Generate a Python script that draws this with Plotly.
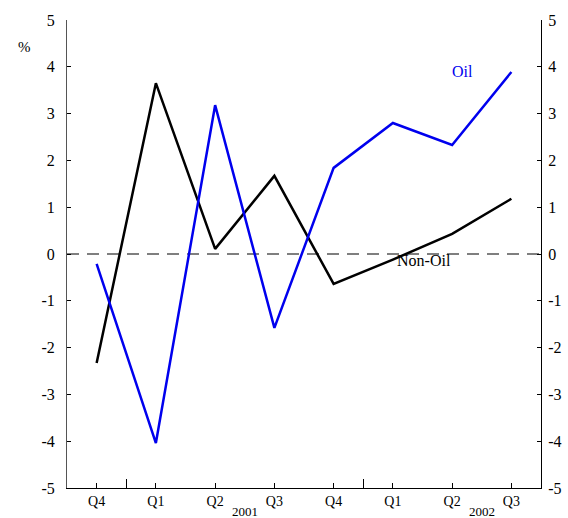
import plotly.graph_objects as go

quarters = ["Q4", "Q1", "Q2", "Q3", "Q4", "Q1", "Q2", "Q3"]
oil = [-0.21, -4.04, 3.18, -1.58, 1.84, 2.80, 2.33, 3.89]
non_oil = [-2.33, 3.65, 0.11, 1.67, -0.64, -0.12, 0.43, 1.18]
years = ["2001", "2002"]
year_pos = [2.5, 6.5]
y_ticks = [-5, -4, -3, -2, -1, 0, 1, 2, 3, 4, 5]
y_tick_text = ["-5", "-4", "-3", "-2", "-1", "0", "1", "2", "3", "4", "5"]

x = list(range(len(quarters)))
FONT = "Liberation Serif"

fig = go.Figure()
fig.add_trace(go.Scatter(x=x, y=non_oil, mode="lines", line=dict(color="black", width=2.5),
                         showlegend=False, hoverinfo="skip"))
fig.add_trace(go.Scatter(x=x, y=oil, mode="lines", line=dict(color="#0000ee", width=2.5),
                         showlegend=False, hoverinfo="skip"))
fig.add_trace(go.Scatter(x=[0], y=[0], yaxis="y2", mode="markers", marker=dict(opacity=0),
                         showlegend=False, hoverinfo="skip"))
fig.add_trace(go.Scatter(x=[0], y=[0], xaxis="x2", mode="markers", marker=dict(opacity=0),
                         showlegend=False, hoverinfo="skip"))

fig.add_hline(y=0, line=dict(color="black", width=1.2, dash="12px,8px"), layer="below")

fig.update_layout(
    width=568, height=518,
    margin=dict(l=67, r=27, t=20, b=30, autoexpand=False),
    paper_bgcolor="white", plot_bgcolor="white",
    font=dict(family=FONT, size=14, color="black"),
    xaxis=dict(range=[-0.5, 7.5], tickvals=x, ticktext=quarters, ticks="inside", ticklen=5,
               tickcolor="black", showline=True, linecolor="black", linewidth=1,
               showgrid=False, zeroline=False, automargin=False,
               tickfont=dict(size=14, family=FONT)),
    xaxis2=dict(range=[-0.5, 7.5], overlaying="x", tickvals=[0.5, 4.5], ticktext=["", ""],
                ticks="inside", ticklen=9, tickcolor="black", showline=False,
                showgrid=False, zeroline=False, anchor="y", automargin=False),
    yaxis=dict(range=[-5, 5], tickvals=y_ticks, ticktext=y_tick_text, ticks="inside",
               ticklen=4, tickcolor="black", showline=True, linecolor="#555555", linewidth=1,
               showgrid=False, zeroline=False, automargin=False, ticklabelstandoff=8,
               tickfont=dict(size=16, family=FONT)),
    yaxis2=dict(range=[-5, 5], tickvals=y_ticks, ticktext=y_tick_text, overlaying="y",
                side="right", ticks="inside", ticklen=4, tickcolor="black", showline=True,
                linecolor="black", linewidth=1, showgrid=False, zeroline=False,
                automargin=False, ticklabelstandoff=3, tickfont=dict(size=16, family=FONT)),
)

fig.add_annotation(x=6.18, y=3.9, text="Oil", showarrow=False,
                   font=dict(color="#0000ee", size=16, family=FONT))
fig.add_annotation(x=5.52, y=-0.14, text="Non-Oil", showarrow=False,
                   font=dict(color="black", size=16, family=FONT))
fig.add_annotation(xref="paper", yref="paper", x=-0.108, y=0.963, text="%", showarrow=False,
                   font=dict(size=15, family=FONT))
for yr, pos in zip(years, year_pos):
    fig.add_annotation(x=pos, yref="paper", y=-0.07, yanchor="bottom", text=yr,
                       showarrow=False, font=dict(size=13, family=FONT))

fig.write_html("out.html", config={"displayModeBar": False},
               post_script="document.body.style.margin='0';")
